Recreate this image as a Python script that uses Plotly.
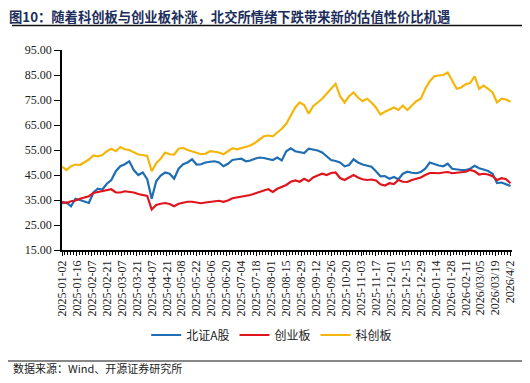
import plotly.graph_objects as go

# trading-day index (every 3rd trading day from 2025-01-02 to 2026-04-02)
day_index = list(range(0, 301, 3))

tick_labels = ["2025-01-02", "2025-01-16", "2025-02-07", "2025-02-21", "2025-03-07",
               "2025-03-21", "2025-04-07", "2025-04-21", "2025-05-08", "2025-05-22",
               "2025-06-06", "2025-06-20", "2025-07-04", "2025-07-18", "2025-08-01",
               "2025-08-15", "2025-08-29", "2025-09-12", "2025-09-26", "2025-10-20",
               "2025-11-03", "2025-11-17", "2025-12-01", "2025-12-15", "2025-12-29",
               "2026-01-14", "2026-01-28", "2026-02-11", "2026/03/05", "2026/03/19",
               "2026/4/2"]
tick_index = list(range(0, 301, 10))

bse = [33.7, 34.0, 32.5, 35.5, 35.0, 34.5, 33.8, 38.0, 39.5, 39.2,
       41.5, 43.0, 46.5, 48.5, 49.3, 50.5, 47.0, 45.0, 46.0, 43.3,
       35.5, 42.5, 44.8, 46.0, 45.5, 43.5, 47.5, 49.3, 50.0, 51.3,
       49.2, 49.3, 50.0, 50.3, 50.5, 50.0, 48.5, 49.5, 51.0, 51.3,
       51.5, 50.5, 50.8, 51.5, 52.0, 51.8, 51.3, 51.0, 52.0, 50.8,
       54.5, 55.7, 54.5, 54.0, 53.8, 55.5, 55.3, 54.8, 54.0, 52.5,
       51.0, 50.6, 50.0, 48.5, 49.0, 51.3, 50.0, 49.2, 48.6, 48.3,
       46.5, 44.5, 44.6, 43.5, 44.2, 43.3, 45.5, 46.3, 45.9, 45.7,
       46.2, 47.5, 50.0, 49.3, 48.8, 48.5, 49.5, 47.5, 47.2, 47.0,
       47.0, 47.5, 48.7, 47.7, 47.2, 46.6, 45.5, 41.8, 42.0, 41.2,
       40.6]

chinext = [34.3, 33.8, 34.5, 34.8, 35.5, 36.0, 36.5, 37.8, 38.2, 38.5,
           39.0, 39.3, 38.0, 38.0, 38.5, 38.3, 38.0, 37.4, 37.0, 36.6,
           31.2, 33.0, 33.5, 33.8, 33.4, 32.5, 33.5, 34.0, 34.3, 34.3,
           34.0, 33.7, 34.0, 34.3, 34.5, 34.7, 34.3, 34.8, 35.7, 36.0,
           36.3, 36.6, 37.0, 37.6, 38.3, 38.8, 39.3, 38.2, 39.5, 40.2,
           41.0, 42.3, 42.8, 42.3, 43.5, 42.5, 44.0, 44.8, 45.5, 45.0,
           45.8, 46.0, 43.8, 43.0, 44.0, 45.0, 44.0, 43.3, 43.0, 43.2,
           42.8, 41.3, 40.8, 41.7, 41.4, 43.0, 42.3, 42.2, 43.0, 43.5,
           44.0, 45.0, 45.8, 45.8, 45.7, 46.0, 46.2, 45.7, 45.9, 46.0,
           46.3, 47.0, 46.5, 45.2, 45.5, 45.2, 44.5, 43.0, 43.7, 43.3,
           41.7]

star = [48.3, 47.0, 48.5, 49.2, 49.0, 50.0, 51.2, 52.8, 52.5, 53.0,
        54.5, 55.5, 54.5, 56.2, 55.3, 55.0, 54.0, 53.2, 53.0, 52.6,
        46.5, 49.7, 51.5, 54.0, 53.3, 53.2, 55.5, 55.8, 55.0, 54.5,
        54.0, 53.3, 53.5, 54.5, 54.3, 54.0, 53.3, 54.5, 55.7, 55.3,
        55.8, 56.3, 56.8, 57.8, 59.0, 60.5, 60.8, 60.5, 62.0, 63.5,
        65.5, 69.0, 72.0, 74.0, 73.0, 69.5, 72.5, 74.0, 75.5, 77.5,
        79.5, 81.5, 76.5, 74.0, 76.5, 78.0, 76.0, 74.5, 75.5, 74.0,
        72.0, 69.2, 70.3, 71.0, 72.0, 71.0, 72.8, 71.0, 72.8, 74.5,
        75.5, 79.5, 82.5, 84.5, 84.8, 85.0, 86.0, 83.0, 79.5, 80.0,
        81.3, 81.8, 84.5, 79.5, 80.8, 79.5, 78.0, 74.0, 75.5, 75.2,
        74.3]

series_names = ["北证A股", "创业板", "科创板"]
colors = ["#1F6EB4", "#E0141C", "#F4B60A"]

fig = go.Figure()
for name, vals, col in zip(series_names, [bse, chinext, star], colors):
    fig.add_trace(go.Scatter(x=day_index, y=vals, mode="lines", name=name,
                             line=dict(color=col, width=2.2)))

serif = "Liberation Serif, Times New Roman, serif"
cjk = "Noto Sans CJK SC, sans-serif"

# page body has an 8px default margin, so the figure is sized/offset to compensate
fig.update_layout(
    width=522, height=367,
    margin=dict(l=54, r=18, t=42, b=125, autoexpand=False),
    paper_bgcolor="white", plot_bgcolor="white",
    showlegend=True,
    legend=dict(orientation="h", x=0.466, xanchor="center", y=-0.425, yanchor="middle",
                font=dict(family=cjk, size=12, color="#222"),
                itemwidth=30, tracegroupgap=0, bgcolor="rgba(0,0,0,0)"),
    xaxis=dict(range=[0, 301], tickmode="array", tickvals=tick_index, ticktext=tick_labels,
               tickangle=-90, ticks="outside", ticklen=4, tickcolor="black",
               showline=True, linecolor="black", linewidth=1.5, showgrid=False,
               zeroline=False, automargin=False,
               tickfont=dict(family=serif, size=12, color="#222"),
               minor=dict(tick0=0, dtick=2, ticks="outside", ticklen=3, tickcolor="black",
                          showgrid=False)),
    yaxis=dict(range=[15, 95], tickmode="linear", tick0=15, dtick=10, tickformat=".2f",
               ticks="outside", ticklen=6, tickcolor="black", automargin=False,
               showline=True, linecolor="black", linewidth=1.5, showgrid=False,
               zeroline=False, tickfont=dict(family=serif, size=12, color="#222")),
)

fig.add_annotation(xref="paper", yref="paper", x=-54/450, y=1 + 33.5/200, xanchor="left",
                   yanchor="middle", showarrow=False, borderpad=0,
                   text="<b>图10：随着科创板与创业板补涨，北交所情绪下跌带来新的估值性价比机遇</b>",
                   font=dict(family=cjk, size=13.3, color="#1C2D5C"))
fig.add_shape(type="line", xref="paper", yref="paper", x0=-50/450, x1=466/450,
              y0=1 + 24.5/200, y1=1 + 24.5/200, line=dict(color="#111", width=1.5))
fig.add_shape(type="line", xref="paper", yref="paper", x0=-54/450, x1=466/450,
              y0=-111/200, y1=-111/200, line=dict(color="#111", width=1))
fig.add_annotation(xref="paper", yref="paper", x=-50/450, y=-118/200, xanchor="left",
                   yanchor="middle", showarrow=False, borderpad=0,
                   text="数据来源：Wind、开源证券研究所",
                   font=dict(family=cjk, size=11, color="#222"))

fig.write_html("out.html")
